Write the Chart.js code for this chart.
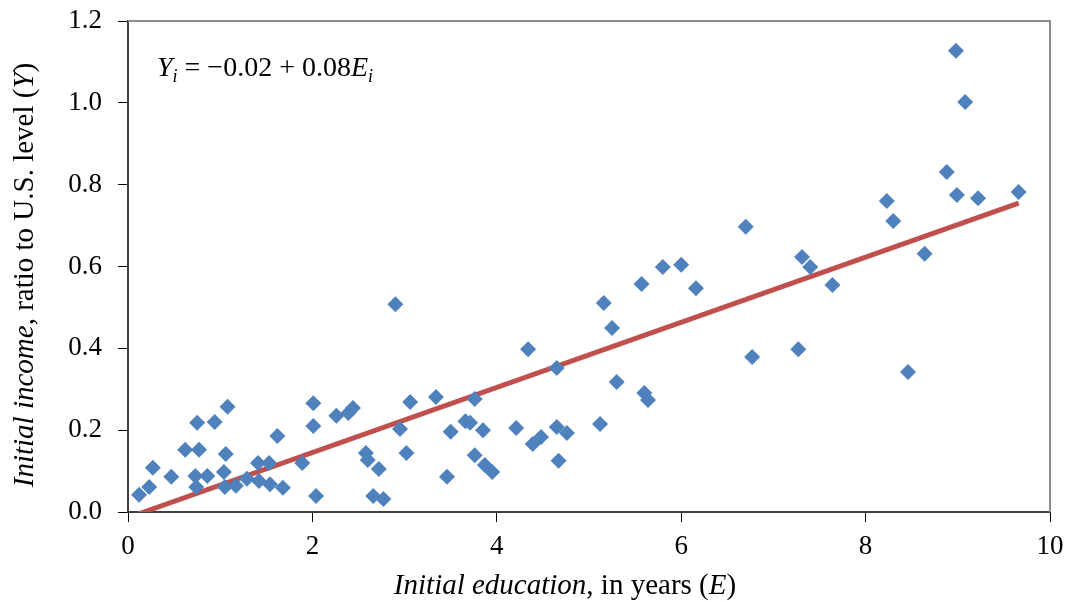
<!DOCTYPE html>
<html>
<head>
<meta charset="utf-8">
<script src="https://cdn.jsdelivr.net/npm/chart.js@4.4.1/dist/chart.umd.min.js"></script>
<style>
  body { margin: 0; background: #ffffff; }
  #wrap { width: 1070px; height: 602px; }
</style>
</head>
<body>
<div id="wrap"><canvas id="eduChart" width="1070" height="602"></canvas></div>
<script>
// initial education (years) per country
const educationYears = [
    0.12, 0.23, 0.27, 0.47, 0.62, 0.75, 0.77, 0.73, 0.74, 0.86,
    0.94, 1.06, 1.04, 1.05, 1.08, 1.17, 1.29, 1.41, 1.42, 1.53,
    1.54, 1.62, 1.68, 1.89, 2.01, 2.01, 2.04, 2.26, 2.39, 2.44,
    2.58, 2.60, 2.66, 2.72, 2.77, 2.90, 2.95, 3.02, 3.06, 3.34,
    3.46, 3.50, 3.66, 3.71, 3.76, 3.76, 3.85, 3.87, 3.95, 4.21,
    4.34, 4.39, 4.48, 4.65, 4.65, 4.67, 4.76, 5.12, 5.16, 5.25,
    5.30, 5.57, 5.60, 5.64, 5.80, 6.00, 6.16, 6.70, 6.77, 7.27,
    7.31, 7.40, 7.64, 8.23, 8.30, 8.46, 8.64, 8.88, 8.98, 8.99,
    9.08, 9.22, 9.66
];
// initial income, ratio to U.S. level
const incomeRatio = [
    0.042, 0.061, 0.108, 0.086, 0.152, 0.218, 0.152, 0.088, 0.061, 0.088,
    0.220, 0.142, 0.098, 0.061, 0.257, 0.064, 0.081, 0.120, 0.076, 0.120,
    0.068, 0.186, 0.059, 0.120, 0.266, 0.210, 0.039, 0.235, 0.242, 0.254,
    0.144, 0.127, 0.039, 0.105, 0.032, 0.508, 0.203, 0.144, 0.269, 0.281,
    0.086, 0.196, 0.222, 0.218, 0.276, 0.139, 0.200, 0.115, 0.098, 0.205,
    0.398, 0.166, 0.183, 0.208, 0.352, 0.125, 0.193, 0.215, 0.511, 0.450,
    0.318, 0.557, 0.291, 0.274, 0.599, 0.604, 0.547, 0.697, 0.379, 0.398,
    0.623, 0.599, 0.555, 0.760, 0.711, 0.342, 0.631, 0.831, 1.127, 0.775,
    1.002, 0.767, 0.782
];
// fitted line end points (as drawn)
const trendX = [0.11, 9.66];
const trendY = [-0.005, 0.755];

const xTicks = [0, 2, 4, 6, 8, 10];
const yTicks = [0.0, 0.2, 0.4, 0.6, 0.8, 1.0, 1.2];

const SERIF = "'Liberation Serif', 'Times New Roman', serif";

// draw a run of text pieces with mixed styles
function drawRich(ctx, parts, x, y, align) {
    let total = 0;
    parts.forEach(p => {
        ctx.font = (p.italic ? "italic " : "") + p.size + "px " + SERIF;
        p.w = ctx.measureText(p.t).width;
        total += p.w;
    });
    let cx = align === "center" ? x - total / 2 : x;
    parts.forEach(p => {
        ctx.font = (p.italic ? "italic " : "") + p.size + "px " + SERIF;
        ctx.fillText(p.t, cx, y + (p.dy || 0));
        cx += p.w;
    });
}

// no extra room for tick label overflow, the padding below sets the box
function noOverflow(s) {
    s.paddingTop = 0;
    s.paddingBottom = 0;
    s.paddingLeft = 0;
    s.paddingRight = 0;
}

const decorPlugin = {
    id: "decor",
    beforeDatasetsDraw(chart) {
        const { ctx, chartArea: a } = chart;
        ctx.save();
        // top and right frame lines
        ctx.strokeStyle = "#8c8c8c";
        ctx.lineWidth = 2;
        ctx.beginPath();
        ctx.moveTo(a.left, a.top);
        ctx.lineTo(a.right, a.top);
        ctx.lineTo(a.right, a.bottom);
        ctx.stroke();
        ctx.restore();
    },
    afterDraw(chart) {
        const { ctx } = chart;
        ctx.save();
        ctx.fillStyle = "#000000";
        ctx.textBaseline = "alphabetic";

        // x axis title
        drawRich(ctx, [
            { t: "Initial education", italic: true, size: 29 },
            { t: ", in years (", size: 29 },
            { t: "E", italic: true, size: 29 },
            { t: ")", size: 29 }
        ], 565, 594, "center");

        // y axis title
        ctx.translate(33, 275);
        ctx.rotate(-Math.PI / 2);
        drawRich(ctx, [
            { t: "Initial income", italic: true, size: 29 },
            { t: ", ratio to U.S. level (", size: 29 },
            { t: "Y", italic: true, size: 29 },
            { t: ")", size: 29 }
        ], 0, 0, "center");
        ctx.setTransform(1, 0, 0, 1, 0, 0);

        // regression equation
        drawRich(ctx, [
            { t: "Y", italic: true, size: 28 },
            { t: "i", italic: true, size: 18, dy: 6 },
            { t: " = \u22120.02 + 0.08", size: 28 },
            { t: "E", italic: true, size: 28 },
            { t: "i", italic: true, size: 18, dy: 6 }
        ], 157, 76, "left");
        ctx.restore();
    }
};

const ctx = document.getElementById("eduChart");

new Chart(ctx, {
    type: "scatter",
    data: {
        datasets: [{
            label: "countries",
            data: educationYears.map((e, i) => ({ x: e, y: incomeRatio[i] })),
            pointStyle: "rectRot",
            pointRadius: 8,
            pointHoverRadius: 8,
            backgroundColor: "#4F81BD",
            borderColor: "#4F81BD",
            borderWidth: 0,
            order: 1
        }, {
            label: "fit",
            type: "line",
            data: trendX.map((e, i) => ({ x: e, y: trendY[i] })),
            borderColor: "#C0504D",
            borderWidth: 5,
            pointRadius: 0,
            fill: false,
            order: 2
        }]
    },
    options: {
        responsive: false,
        animation: false,
        layout: { padding: { left: 0, right: 20, top: 21, bottom: 0 } },
        plugins: {
            legend: { display: false },
            tooltip: { enabled: false }
        },
        scales: {
            x: {
                type: "linear",
                min: 0,
                max: 10,
                afterFit: s => { s.height = 90; noOverflow(s); },
                afterBuildTicks: s => { s.ticks = xTicks.map(v => ({ value: v })); },
                ticks: {
                    color: "#000000",
                    padding: 9,
                    font: { family: SERIF, size: 27 },
                    callback: v => String(v)
                },
                grid: {
                    drawOnChartArea: false,
                    drawTicks: true,
                    tickLength: 10,
                    tickColor: "#000000"
                },
                border: { display: true, color: "#404040", width: 2 }
            },
            y: {
                type: "linear",
                min: 0,
                max: 1.2,
                afterFit: s => { s.width = 128; noOverflow(s); },
                afterBuildTicks: s => { s.ticks = yTicks.map(v => ({ value: v })); },
                ticks: {
                    color: "#000000",
                    padding: 16,
                    font: { family: SERIF, size: 27 },
                    callback: v => v.toFixed(1)
                },
                grid: {
                    drawOnChartArea: false,
                    drawTicks: true,
                    tickLength: 10,
                    tickColor: "#000000"
                },
                border: { display: true, color: "#404040", width: 2 }
            }
        }
    },
    plugins: [decorPlugin]
});
</script>
</body>
</html>
